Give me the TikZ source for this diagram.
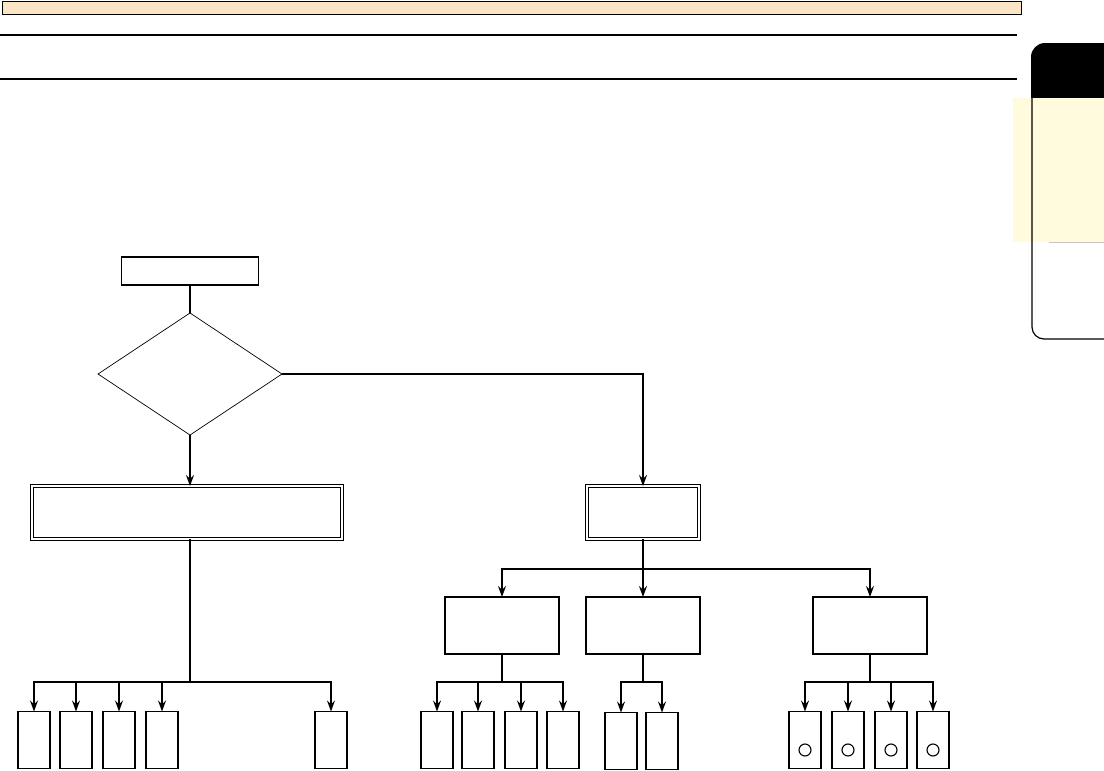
\documentclass[tikz,border=0pt]{standalone}
\usetikzlibrary{arrows.meta, positioning, shapes.geometric}
\definecolor{barfill}{HTML}{FCE4C6}
\definecolor{tabfill}{HTML}{FFFBDC}

\begin{document}
\begin{tikzpicture}[x=1pt, y=-1pt,
    box/.style={draw, line width=1.3pt, inner sep=0pt, outer sep=0pt,
      minimum width=114pt, minimum height=57pt},
    dbox/.style={draw, double, double distance=2pt, line width=0.9pt,
      inner sep=0pt, outer sep=0pt, minimum height=53pt},
    leaf/.style={draw, line width=1.9pt, inner sep=0pt, outer sep=0pt,
      minimum width=32pt, minimum height=57pt},
    link/.style={line width=1.1pt},
    arr/.style={link, -{Stealth[length=11pt, width=8pt, inset=4pt]}}]
  \useasboundingbox (0,0) rectangle (1104,771);

  % Header bar and rules
  \draw[fill=barfill, line width=0.8pt] (2,1) rectangle (1021,14);
  \draw[line width=1.6pt] (0,35) -- (1017,35);
  \draw[line width=1.6pt] (0,79) -- (1017,79);

  % Side tab
  \fill[black] (1104,98) -- (1031,98) [rounded corners=14pt] -- (1031,43)
    [sharp corners] -- (1104,43) -- cycle;
  \fill[tabfill] (1013,98) rectangle (1104,242);
  \draw[gray!45, line width=0.8pt] (1049,242) -- (1104,242);
  \draw[line width=1.2pt] (1032,98) [rounded corners=12pt] -- (1032,339)
    [sharp corners] -- (1104,339);

  % Start and decision
  \node[draw, line width=1.1pt, inner sep=0pt, outer sep=0pt,
    minimum width=137pt, minimum height=28pt] (start) at (190,271) {};
  \node[diamond, draw, line width=0.7pt, inner sep=0pt, outer sep=0pt,
    minimum width=184pt, minimum height=122pt] (check) at (190,374) {};
  \draw[link] (start) -- (check);

  % Two outcomes
  \node[dbox, minimum width=310pt] (left) at (187,512.5) {};
  \node[dbox, minimum width=112pt] (right) at (643,512.5) {};
  \draw[arr] (check.south) -- (check.south |- left.north);
  \draw[arr] (check.east) -| (right.north);

  % Middle row
  \coordinate (mj) at (643,569);
  \draw[link] (right.south) -- (mj);
  \foreach \n/\x in {ml/502, mm/643, mr/870} {
    \node[box] (\n) at (\x,625.5) {};
    \draw[arr] (mj) -| (\n.north);
  }

  % Bus junctions for the bottom row
  \coordinate (ja) at (190,682);
  \coordinate (jb) at (502,682);
  \coordinate (jc) at (643,682);
  \coordinate (jd) at (870,682);
  \draw[link] (left.south -| ja) -- (ja);
  \draw[link] (ml.south) -- (jb);
  \draw[link] (mm.south) -- (jc);
  \draw[link] (mr.south) -- (jd);

  % Bottom row
  \foreach \n/\x in {a1/34, a2/76, a3/119, a4/162, a5/331} {
    \node[leaf] (\n) at (\x,740) {};
    \draw[arr] (ja) -| (\n.north);
  }
  \foreach \n/\x in {b1/437, b2/478, b3/521, b4/563} {
    \node[leaf] (\n) at (\x,740) {};
    \draw[arr] (jb) -| (\n.north);
  }
  \foreach \n/\x in {c1/621, c2/662} {
    \node[leaf] (\n) at (\x,741) {};
    \draw[arr] (jc) -| (\n.north);
  }
  \foreach \n/\x in {d1/805, d2/848, d3/891, d4/933} {
    \node[leaf] (\n) at (\x,740) {};
    \draw[arr] (jd) -| (\n.north);
    \draw[line width=1.1pt] (\n.center) ++(0,10) circle (6pt);
  }
\end{tikzpicture}
\end{document}
